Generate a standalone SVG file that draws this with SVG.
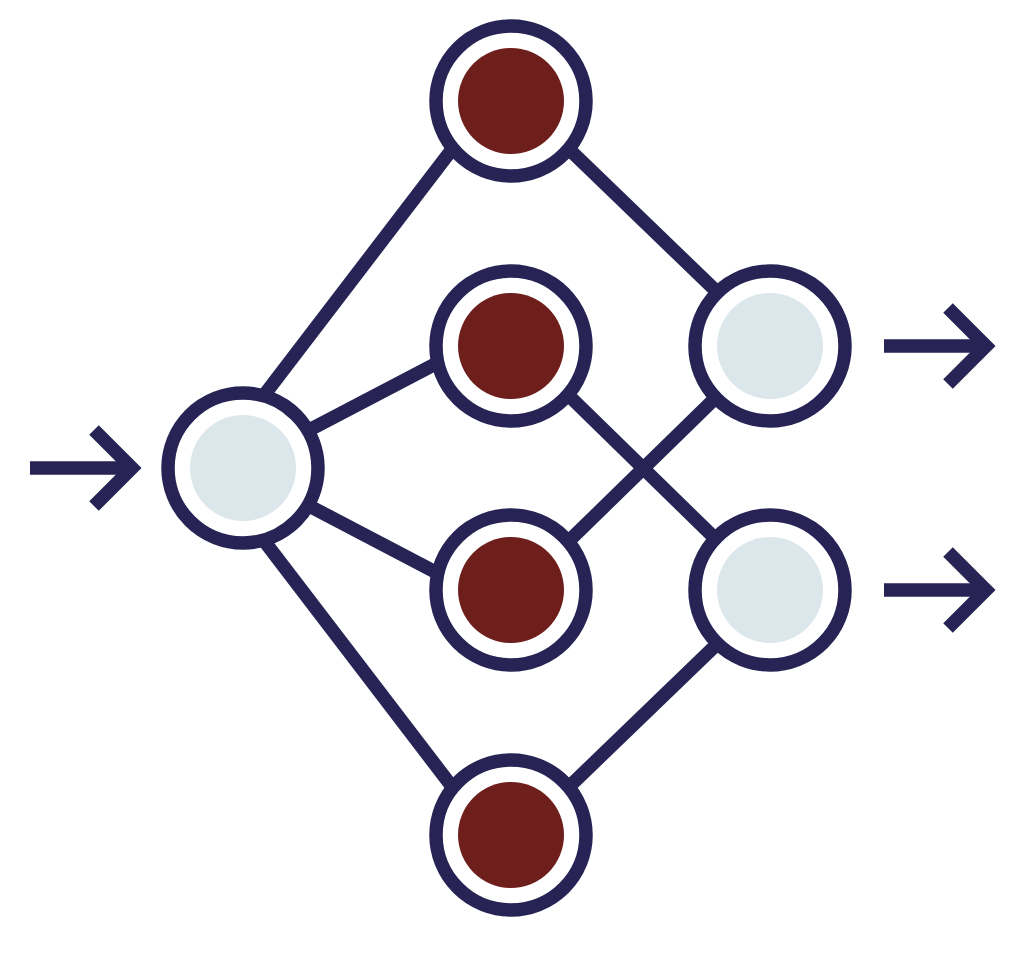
<svg xmlns="http://www.w3.org/2000/svg" width="1016" height="956" viewBox="0 0 1016 956">
<style>
.edge{stroke:#272354;stroke-width:13.5;fill:none}
.ring{fill:#ffffff;stroke:#272354;stroke-width:13.5}
.io{fill:#dbe7ea}
.hid{fill:#6e1f1c}
.arrow{stroke:#272354;stroke-width:13.5;fill:none;stroke-miterlimit:10}
</style>
<rect width="1016" height="956" fill="#ffffff"/>
<g id="connectors">
<line class="edge" x1="255.9" y1="405.9" x2="462.1" y2="136.1"/>
<line class="edge" x1="297.3" y1="436.3" x2="454.4" y2="354.0"/>
<line class="edge" x1="297.3" y1="499.7" x2="454.4" y2="582.0"/>
<line class="edge" x1="255.9" y1="530.1" x2="462.1" y2="799.9"/>
<line class="edge" x1="558.9" y1="139.4" x2="729.4" y2="303.9"/>
<line class="edge" x1="559.0" y1="386.0" x2="727.6" y2="550.7"/>
<line class="edge" x1="559.0" y1="550.7" x2="726.0" y2="387.7"/>
<line class="edge" x1="558.9" y1="796.6" x2="729.4" y2="632.1"/>
<g id="arrow-in"><line class="arrow" x1="30" y1="468" x2="130" y2="468"/><polyline class="arrow" points="94,430 132,468 94,506"/></g>
<g id="arrow-out1"><line class="arrow" x1="884" y1="346" x2="984" y2="346"/><polyline class="arrow" points="948,308 986,346 948,384"/></g>
<g id="arrow-out2"><line class="arrow" x1="884" y1="590" x2="984" y2="590"/><polyline class="arrow" points="948,552 986,590 948,628"/></g>
</g>
<g id="input"><circle class="ring" cx="243" cy="468" r="75"/><circle class="io" cx="243" cy="468" r="53"/></g>
<g id="hidden1"><circle class="ring" cx="511" cy="101" r="75"/><circle class="hid" cx="511" cy="101" r="53"/></g>
<g id="hidden2"><circle class="ring" cx="511" cy="346" r="75"/><circle class="hid" cx="511" cy="346" r="53"/></g>
<g id="hidden3"><circle class="ring" cx="511" cy="590" r="75"/><circle class="hid" cx="511" cy="590" r="53"/></g>
<g id="hidden4"><circle class="ring" cx="511" cy="835" r="75"/><circle class="hid" cx="511" cy="835" r="53"/></g>
<g id="output1"><circle class="ring" cx="770" cy="346" r="75"/><circle class="io" cx="770" cy="346" r="53"/></g>
<g id="output2"><circle class="ring" cx="770" cy="590" r="75"/><circle class="io" cx="770" cy="590" r="53"/></g>
</svg>
